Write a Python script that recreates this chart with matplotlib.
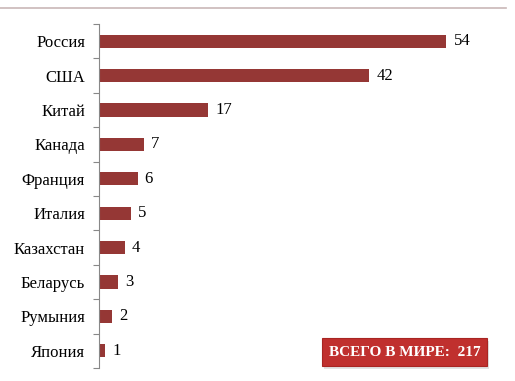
import matplotlib.pyplot as plt
from matplotlib.lines import Line2D
from matplotlib.patches import FancyBboxPatch

countries = ["Россия", "США", "Китай", "Канада", "Франция", "Италия",
             "Казахстан", "Беларусь", "Румыния", "Япония"]
values = [54, 42, 17, 7, 6, 5, 4, 3, 2, 1]
total_label = "ВСЕГО В МИРЕ:  217"

plt.rcParams['font.family'] = ['Liberation Serif', 'DejaVu Serif']

W, H = 515, 381
fig = plt.figure(figsize=(W / 100, H / 100), dpi=100)
ax = fig.add_axes([99 / W, 13 / H, 386 / W, 344 / H])

pos = list(range(len(countries)))
ax.barh(pos, values, height=0.38, color="#953735", zorder=2)
for p, v in zip(pos, values):
    ax.text(v + 1.1, p, str(v), va="center", ha="left", fontsize=12)

ax.set_ylim(len(countries) - 0.5, -0.5)
ax.set_xlim(0, 60)
ax.set_yticks(pos)
ax.set_yticklabels(countries, fontsize=12)
ax.set_yticks([p - 0.5 for p in range(len(countries) + 1)], minor=True)
ax.tick_params(axis="y", which="major", length=0, pad=10)
ax.tick_params(axis="y", which="minor", length=4, color="#888888", width=0.8)
ax.set_xticks([])
for s in ["top", "right", "bottom"]:
    ax.spines[s].set_visible(False)
ax.spines["left"].set_color("#888888")
ax.spines["left"].set_linewidth(0.8)

# top rule
fig.add_artist(Line2D([0, 506 / W], [1 - 8 / H, 1 - 8 / H], color="#c9b7b7", lw=1.2))

# total box with shadow
x0, y0, bw, bh = 322 / W, 1 - 366 / H, 165 / W, 28 / H
shadow = FancyBboxPatch((x0 + 2 / W, y0 - 3 / H), bw, bh, boxstyle="square,pad=0",
                        transform=fig.transFigure, facecolor="#c8c8c8", edgecolor="none",
                        alpha=0.5)
box = FancyBboxPatch((x0, y0), bw, bh, boxstyle="square,pad=0",
                     transform=fig.transFigure, facecolor="#c0302e", edgecolor="#a82522",
                     lw=0.8)
fig.add_artist(shadow)
fig.add_artist(box)
fig.text(x0 + bw / 2, y0 + bh / 2, total_label, ha="center", va="center",
         color="white", fontsize=11, fontweight="bold")

fig.savefig("out.png", dpi=100, facecolor="white")
